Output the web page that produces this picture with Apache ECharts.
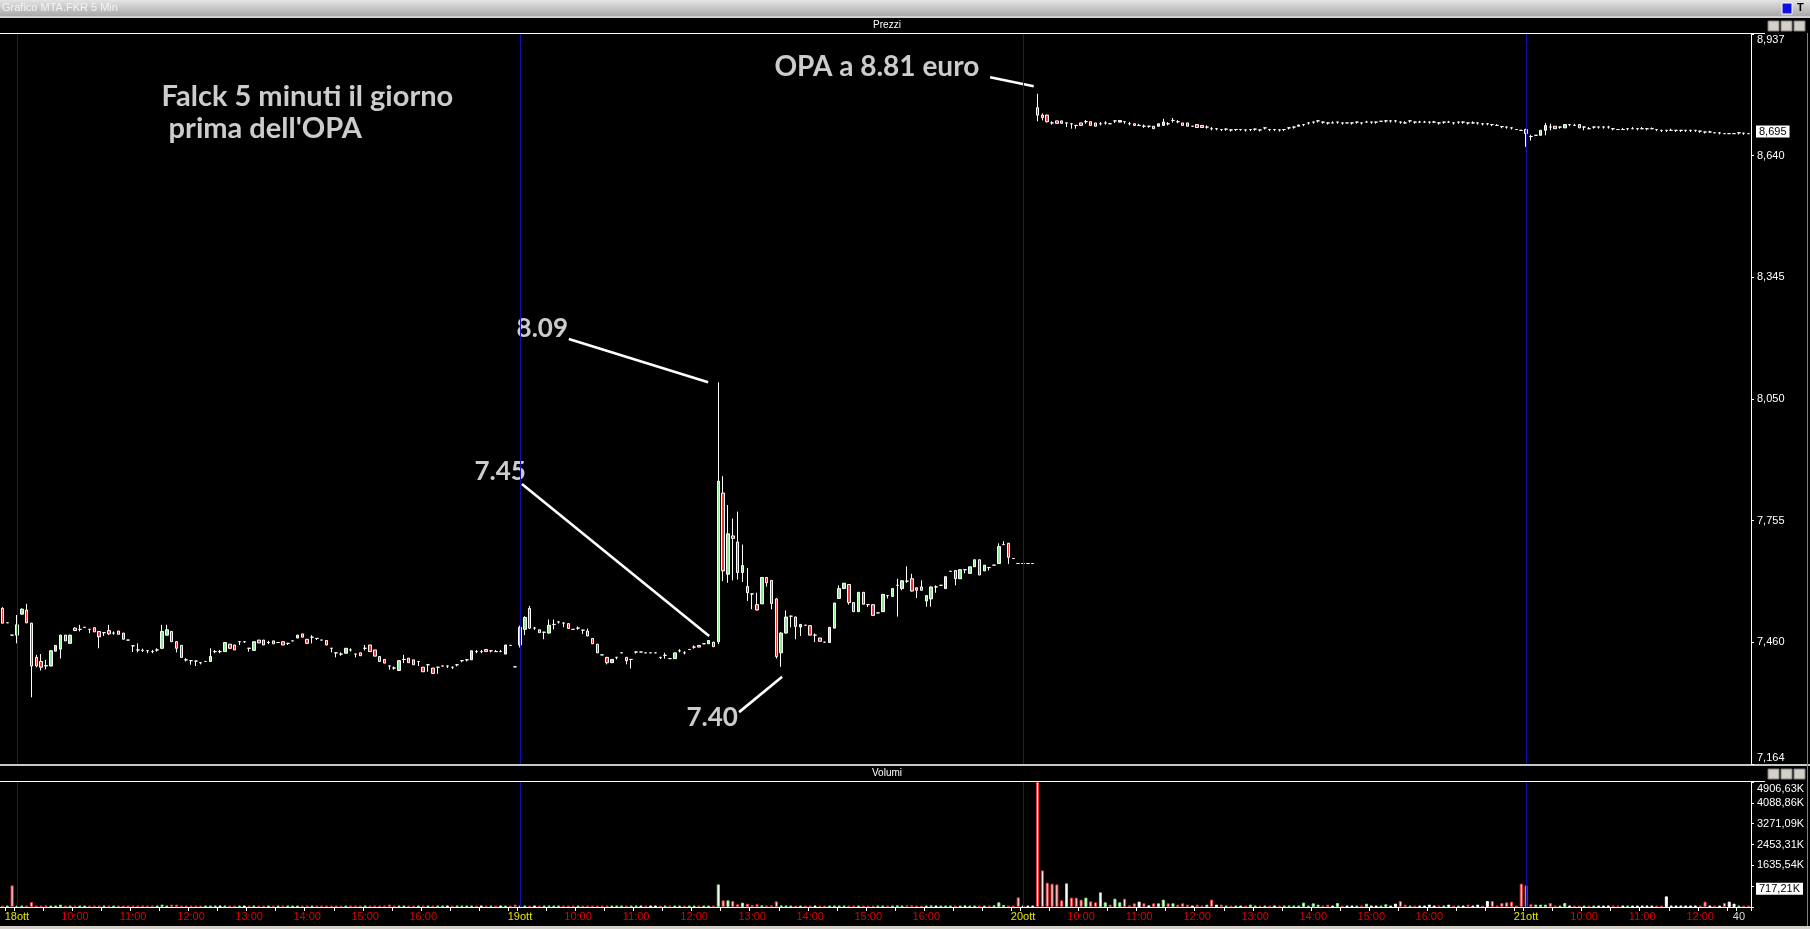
<!DOCTYPE html>
<html><head><meta charset="utf-8">
<script src="https://cdn.jsdelivr.net/npm/echarts@6/dist/echarts.min.js"></script>
<style>html,body{margin:0;padding:0;background:#000;overflow:hidden}#c{width:1810px;height:929px}</style>
</head><body><div id="c"></div>
<script>
// ---------- DATA ----------
const sessionDays = ['17ott','18ott','19ott','20ott','21ott'];
const sessionStart = ['17:25','09:00','09:00','09:00','09:00'];
const barsPerDay = [3,104,104,104,47];

// candles: number = flat bar, [open,close] = no wicks, [open,close,low,high]
const day17 = [[7.542,7.506,7.506,7.545],7.507,7.477];
const day18 = [
[7.477,7.502,7.457,7.526],[7.528,7.540,7.527,7.542],[7.538,7.507,7.506,7.553],[7.506,7.402,7.326,7.507],
[7.423,7.402,7.399,7.429],[7.413,7.399,7.391,7.431],[7.403,7.402,7.394,7.417],[7.402,7.439,7.401,7.441],
[7.438,7.452],[7.443,7.477,7.420,7.478],[7.477,7.463],[7.457,7.477],[7.494,7.488,7.487,7.496],
[7.491,7.491,7.486,7.502],7.496,[7.491,7.491,7.482,7.492],[7.495,7.485],[7.486,7.473,7.445,7.487],
[7.483,7.483,7.475,7.484],[7.488,7.480,7.477,7.502],[7.482,7.482,7.478,7.486],[7.487,7.479],[7.482,7.467],
7.465,[7.451,7.451,7.436,7.452],[7.441,7.441,7.435,7.457],[7.440,7.440,7.436,7.444],[7.439,7.439,7.433,7.440],
[7.437,7.437,7.433,7.441],[7.441,7.441,7.437,7.445],[7.445,7.486,7.443,7.502],[7.477,7.490,7.476,7.502],
[7.486,7.461],[7.461,7.445,7.435,7.462],[7.452,7.423],[7.417,7.417,7.413,7.421],[7.415,7.415,7.405,7.416],
[7.414,7.414,7.402,7.415],[7.410,7.410,7.406,7.411],7.413,[7.413,7.425,7.412,7.445],[7.437,7.437,7.433,7.441],
[7.437,7.437,7.433,7.441],[7.437,7.459],[7.455,7.445],[7.453,7.441],[7.461,7.461,7.453,7.462],
[7.461,7.461,7.458,7.462],[7.445,7.445,7.437,7.446],[7.440,7.461],[7.465,7.458],[7.465,7.453],
[7.459,7.459,7.455,7.463],[7.463,7.456],7.459,[7.461,7.453],[7.457,7.457,7.453,7.458],7.463,
[7.470,7.477],[7.480,7.472],[7.467,7.457],[7.472,7.472,7.457,7.477],[7.469,7.469,7.465,7.470],7.465,
[7.464,7.453],[7.445,7.445,7.435,7.446],[7.434,7.434,7.423,7.435],[7.431,7.431,7.427,7.435],[7.433,7.445],
[7.441,7.441,7.437,7.445],[7.431,7.431,7.423,7.432],[7.434,7.427],[7.445,7.445,7.440,7.453],[7.453,7.437],
[7.441,7.426],[7.425,7.413],[7.418,7.409],[7.402,7.402,7.393,7.403],[7.397,7.397,7.393,7.401],[7.391,7.415],
[7.418,7.418,7.409,7.429],[7.421,7.410],[7.417,7.405],[7.413,7.413,7.402,7.414],[7.399,7.388],
[7.405,7.405,7.388,7.406],[7.397,7.384],[7.399,7.399,7.383,7.400],7.402,[7.402,7.402,7.397,7.403],
[7.399,7.399,7.395,7.400],[7.405,7.405,7.401,7.406],[7.415,7.415,7.411,7.416],[7.417,7.417,7.413,7.418],
[7.417,7.439],[7.437,7.437,7.433,7.441],[7.437,7.437,7.433,7.441],[7.442,7.437],[7.439,7.439,7.435,7.440],
[7.437,7.437,7.436,7.441],[7.437,7.437,7.436,7.441],[7.431,7.453],7.452,7.400
];
const day19 = [
[7.453,7.496,7.447,7.500],[7.491,7.520,7.477,7.523],[7.542,7.494,7.492,7.548],[7.494,7.494,7.490,7.497],
[7.490,7.483],[7.484,7.484,7.467,7.485],[7.482,7.501,7.481,7.515],[7.503,7.503,7.491,7.515],
[7.509,7.509,7.505,7.510],[7.506,7.506,7.496,7.509],[7.505,7.493],7.491,[7.494,7.494,7.490,7.498],
[7.489,7.489,7.480,7.490],[7.487,7.475,7.474,7.493],[7.469,7.456],[7.455,7.434],7.429,
[7.423,7.410,7.406,7.424],[7.410,7.418],[7.423,7.423,7.418,7.424],7.434,[7.423,7.415,7.406,7.424],
[7.418,7.418,7.396,7.419],[7.436,7.436,7.432,7.437],7.436,7.434,7.434,7.434,[7.423,7.423,7.419,7.424],
[7.428,7.428,7.420,7.434],7.420,[7.420,7.434],[7.439,7.439,7.435,7.443],[7.434,7.434,7.430,7.438],7.442,
[7.448,7.448,7.444,7.452],[7.452,7.448],7.456,[7.456,7.464],[7.460,7.449],
[7.461,7.851,7.455,8.091],[7.822,7.633,7.608,7.863],[7.625,7.723,7.604,7.793],[7.718,7.712,7.610,7.760],
[7.703,7.629,7.612,7.777],[7.629,7.646,7.606,7.697],[7.595,7.580,7.560,7.640],[7.577,7.577,7.540,7.578],
[7.551,7.538,7.537,7.580],[7.553,7.617],[7.617,7.604,7.595,7.618],[7.610,7.554,7.540,7.611],
[7.565,7.425,7.420,7.567],[7.434,7.482,7.400,7.484],[7.482,7.521,7.481,7.537],[7.523,7.523,7.496,7.524],
[7.521,7.498,7.467,7.522],[7.497,7.503,7.475,7.504],7.501,[7.500,7.477],[7.477,7.477,7.460,7.481],
[7.470,7.462],7.460,[7.459,7.496],[7.494,7.555],[7.566,7.590,7.565,7.598],[7.590,7.603],
[7.600,7.556,7.551,7.601],[7.556,7.534],[7.534,7.581],[7.581,7.552],[7.551,7.551,7.545,7.552],
[7.551,7.525],7.531,[7.534,7.576],[7.573,7.573,7.566,7.574],[7.571,7.590],[7.598,7.598,7.522,7.614],
[7.590,7.609,7.586,7.610],[7.608,7.608,7.604,7.644],[7.614,7.584,7.583,7.626],[7.592,7.586,7.567,7.593],
[7.594,7.586,7.585,7.610],[7.560,7.573,7.546,7.574],[7.565,7.594,7.546,7.595],[7.594,7.594,7.580,7.598],
7.598,[7.590,7.619],7.632,[7.634,7.614,7.598,7.635],[7.614,7.636],[7.636,7.636,7.627,7.637],
[7.627,7.643],[7.643,7.660],[7.660,7.623],[7.633,7.647],[7.641,7.641,7.634,7.642],7.647,
[7.651,7.692,7.650,7.700],[7.697,7.697,7.696,7.705],[7.700,7.666,7.650,7.701],7.663,7.651
];
const day20 = [
7.651,7.651,7.651,
[8.758,8.740,8.725,8.792],[8.740,8.734,8.727,8.744],[8.740,8.724,8.722,8.741],[8.721,8.721,8.717,8.725],
[8.726,8.720],[8.726,8.720],[8.721,8.721,8.711,8.722],[8.719,8.719,8.707,8.720],[8.715,8.715,8.707,8.716],
[8.721,8.715],[8.724,8.724,8.719,8.728],[8.724,8.715],[8.721,8.713],[8.719,8.719,8.715,8.723],
[8.721,8.721,8.717,8.725],8.719,[8.726,8.726,8.721,8.727],[8.723,8.727],[8.724,8.724,8.719,8.725],
[8.719,8.719,8.715,8.723],[8.719,8.715],[8.715,8.715,8.714,8.719],[8.713,8.713,8.709,8.717],
[8.713,8.713,8.709,8.714],[8.713,8.707],[8.713,8.719],[8.715,8.723,8.714,8.731],[8.719,8.719,8.715,8.723],
[8.727,8.727,8.722,8.733],[8.724,8.724,8.720,8.728],[8.721,8.715],[8.721,8.713],8.713,[8.717,8.710],
[8.715,8.710],[8.711,8.711,8.707,8.715],[8.707,8.707,8.703,8.711],[8.707,8.707,8.703,8.708],
[8.705,8.705,8.701,8.706],[8.706,8.706,8.702,8.707],[8.704,8.704,8.700,8.705],[8.705,8.705,8.701,8.706],
[8.705,8.705,8.702,8.706],[8.704,8.704,8.700,8.705],[8.705,8.705,8.701,8.706],[8.706,8.706,8.702,8.707],
[8.704,8.704,8.700,8.705],[8.709,8.709,8.705,8.710],[8.705,8.705,8.701,8.706],[8.705,8.705,8.701,8.706],
[8.704,8.704,8.700,8.705],[8.705,8.705,8.701,8.706],[8.709,8.709,8.705,8.710],[8.711,8.711,8.707,8.712],
[8.713,8.716],[8.717,8.717,8.713,8.718],[8.721,8.721,8.717,8.722],[8.723,8.723,8.719,8.724],
[8.726,8.726,8.722,8.727],[8.723,8.723,8.719,8.724],[8.721,8.721,8.717,8.722],[8.721,8.721,8.720,8.725],
[8.723,8.723,8.719,8.724],[8.721,8.721,8.717,8.722],8.721,[8.721,8.721,8.717,8.722],[8.723,8.723,8.719,8.724],
[8.721,8.721,8.717,8.722],[8.723,8.723,8.722,8.726],[8.723,8.723,8.719,8.724],[8.723,8.723,8.719,8.724],8.725,
[8.726,8.726,8.722,8.727],[8.726,8.726,8.722,8.727],[8.726,8.726,8.722,8.727],[8.723,8.723,8.719,8.724],
[8.721,8.721,8.720,8.725],[8.726,8.726,8.722,8.727],[8.723,8.723,8.719,8.724],[8.723,8.723,8.722,8.726],
[8.723,8.723,8.722,8.726],[8.723,8.723,8.719,8.724],[8.723,8.723,8.722,8.726],[8.721,8.721,8.717,8.722],
[8.723,8.723,8.719,8.724],[8.723,8.723,8.722,8.726],[8.721,8.721,8.717,8.722],[8.723,8.723,8.719,8.724],
[8.723,8.723,8.719,8.724],[8.721,8.721,8.717,8.722],[8.721,8.721,8.720,8.725],[8.721,8.721,8.717,8.722],
[8.719,8.719,8.715,8.720],[8.719,8.719,8.715,8.720],[8.717,8.717,8.713,8.718],[8.715,8.715,8.714,8.718],
[8.712,8.712,8.708,8.713],[8.711,8.711,8.707,8.712],[8.709,8.709,8.705,8.710],8.705,8.703
];
const day21 = [
[8.705,8.695,8.663,8.707],[8.688,8.688,8.678,8.692],8.691,[8.691,8.703],[8.703,8.715,8.691,8.721],
[8.711,8.711,8.703,8.719],[8.713,8.707],[8.711,8.711,8.707,8.712],[8.709,8.717],[8.717,8.717,8.713,8.718],
[8.715,8.715,8.714,8.719],[8.717,8.709],[8.711,8.711,8.703,8.712],[8.707,8.707,8.706,8.711],
[8.711,8.711,8.707,8.712],[8.711,8.711,8.707,8.712],[8.711,8.711,8.707,8.712],[8.711,8.711,8.707,8.714],
[8.707,8.707,8.703,8.708],8.705,[8.705,8.705,8.704,8.709],[8.707,8.707,8.703,8.708],[8.707,8.707,8.706,8.711],
[8.707,8.707,8.703,8.708],[8.707,8.707,8.706,8.711],[8.707,8.707,8.703,8.708],[8.707,8.707,8.706,8.710],
[8.705,8.705,8.701,8.706],[8.703,8.703,8.699,8.704],[8.703,8.703,8.699,8.704],[8.703,8.703,8.702,8.707],
[8.703,8.703,8.699,8.704],[8.703,8.703,8.699,8.704],[8.703,8.703,8.699,8.704],[8.703,8.703,8.699,8.704],
[8.703,8.703,8.699,8.704],[8.701,8.701,8.697,8.702],[8.699,8.699,8.695,8.700],[8.699,8.699,8.698,8.702],
8.697,[8.697,8.697,8.693,8.698],8.695,8.695,8.695,[8.697,8.697,8.693,8.698],[8.696,8.696,8.692,8.697],8.695
];

// volumes (thousands of shares)
const vol17 = [30,25,850];
const vol18 = [40,30,35,196,30,25,65,30,25,91,25,30,20,25,20,25,20,52,20,25,20,20,25,20,25,20,20,25,20,20,
91,30,91,91,30,20,25,20,20,20,52,20,25,30,20,25,20,20,25,30,20,25,20,20,20,25,20,20,25,25,30,20,20,20,25,30,
25,20,25,20,20,20,25,30,25,30,25,91,25,30,25,20,25,20,25,20,25,20,20,20,20,25,25,20,52,25,20,20,20,20,20,30,25,91];
const vol19 = [30,52,30,25,20,25,20,25,20,20,25,20,20,25,20,25,30,20,25,20,20,20,25,20,20,15,15,15,15,20,20,15,
25,20,20,20,20,25,20,25,30,888,261,261,235,105,170,130,78,105,65,52,65,222,65,30,25,30,52,25,30,25,25,20,25,52,
25,20,25,20,25,20,20,25,20,25,20,25,65,25,65,65,25,20,25,65,20,20,25,20,25,20,20,25,25,30,25,30,65,183,78,30,25,380];
const vol20 = [0,0,0,4906.63,1437,954,915,888,261,928,366,366,287,366,222,183,575,183,91,326,183,326,65,144,209,144,
65,144,144,287,144,144,91,144,91,52,91,52,91,287,91,91,26,26,26,30,26,91,52,26,40,26,30,26,40,52,52,30,170,30,144,
91,26,91,30,157,26,30,26,40,26,130,30,26,40,105,30,130,235,91,30,26,40,30,91,30,26,40,91,30,26,40,91,30,91,40,235,
235,40,157,183,209,40,915];
const vol21 = [850,105,91,91,91,157,30,30,157,40,52,40,52,30,40,30,52,40,30,40,30,40,26,30,40,26,30,26,40,418,30,40,
26,30,40,26,30,209,30,26,40,157,209,130,52,20,52];

// axis tick labels
const priceTickLabels = ['7,164','7,460','7,755','8,050','8,345','8,640','8,937'];
const priceMin = 7.164, priceMax = 8.937;
const volTickLabels = ['','','1635,54K','2453,31K','3271,09K','4088,86K','4906,63K'];
const volMax = 4906.63;
const hourLabels = ['10:00','11:00','12:00','13:00','14:00','15:00','16:00'];
const endLabel = {cat:'21ott 12:40', text:'40'};
const lastPrice = 8.695, lastPriceText = '8,695';
const volMarker = 717.21, volMarkerText = '717,21K';

// annotations (value-x = bar index, y = price)
const noteTexts = [
  {name:"Falck 5 minuti il giorno\n prima dell'OPA", value:[32.8, 8.747], size:29},
  {name:'OPA a 8.81 euro', value:[159.5, 8.858], size:28},
  {name:'8.09', value:[106.2, 8.2225], size:26},
  {name:'7.45', value:[97.5, 7.873], size:26},
  {name:'7.40', value:[141.3, 7.276], size:26}
];
const noteLines = [
  [[204.2, 8.832],[213.2, 8.810]],
  [[117.1, 8.196],[145.9, 8.091]],
  [[107.4, 7.844],[146.1, 7.475]],
  [[152.3, 7.290],[161.2, 7.376]]
];

// ---------- BUILD ----------
const categories = [];
sessionDays.forEach((d,k)=>{
  const [h,m] = sessionStart[k].split(':').map(Number);
  for (let i=0;i<barsPerDay[k];i++){
    const t = h*60+m+5*i;
    categories.push(d+' '+String(Math.floor(t/60)).padStart(2,'0')+':'+String(t%60).padStart(2,'0'));
  }
});
function expand(e){
  if (typeof e === 'number') return [e,e,e,e];
  if (e.length===2) return [e[0],e[1],Math.min(e[0],e[1]),Math.max(e[0],e[1])];
  return e;
}
const candles = [].concat(day17,day18,day19,day20,day21).map(expand);
const volumes = [].concat(vol17,vol18,vol19,vol20,vol21);
const UP='#8ee88e', DN='#e83838', FLAT='#ffffff';
const volData = volumes.map((v,i)=>{
  const c=candles[i];
  let d = c[1]-c[0];
  if (d===0 && i>0) d = c[1]-candles[i-1][1];
  const col = d>0?UP:(d<0?DN:FLAT);
  return {value:v, itemStyle:{color:'#ffffff', borderColor:col, borderWidth:1}};
});
const dayStarts = categories.filter(c=>c.endsWith(' 09:00'));
const priceInterval = (priceMax-priceMin)/6;
const volInterval = volMax/6;
const BLUE = '#1010b0';
const blueLineData = dayStarts.map(c=>({xAxis:c, lineStyle:{color:BLUE, width:1, type:'solid'}, label:{show:false}}));

const FONT = 'Liberation Sans, Arial, sans-serif';
const boxLabel = (txt)=>({show:true, position:'end', distance:5, formatter:txt, color:'#000', backgroundColor:'#ffffff', padding:[1,3,0,3], fontFamily:FONT, fontSize:11});
const chart = echarts.init(document.getElementById('c'), null, {renderer:'canvas', width:1810, height:929});
chart.setOption({
  animation:false,
  backgroundColor:'#000000',
  grid:[
    {left:0, right:59, top:34, height:730, containLabel:false, outerBoundsMode:'none'},
    {left:0, right:59, top:782, height:125, containLabel:false, outerBoundsMode:'none'}
  ],
  xAxis:[
    {type:'category', gridIndex:0, data:categories, axisLine:{show:false, onZero:false}, axisTick:{show:false}, axisLabel:{show:false}, splitLine:{show:false}},
    {type:'category', gridIndex:1, data:categories,
      axisLine:{show:true, onZero:false, lineStyle:{color:'#ffffff', width:1}},
      axisTick:{show:true, length:4, lineStyle:{color:'#ffffff'},
        interval:(i,v)=>{const t=v.slice(-5); return t.endsWith(':00')||t.endsWith(':30')||v===endLabel.cat;}},
      axisLabel:{show:true, margin:4, fontFamily:FONT, fontSize:11,
        interval:(i,v)=>{const t=v.slice(-5); return t==='09:00'||hourLabels.includes(t)||v===endLabel.cat;},
        formatter:(v)=>{const t=v.slice(-5); if(t==='09:00') return '{d|'+v.slice(0,5)+'}'; if(v===endLabel.cat) return '{e|'+endLabel.text+'}'; if(hourLabels.includes(t)) return '{h|'+t+'}'; return '';},
        rich:{d:{color:'#e6e600',fontFamily:FONT,fontSize:11}, h:{color:'#dd0000',fontFamily:FONT,fontSize:11}, e:{color:'#d8d8d8',fontFamily:FONT,fontSize:11}}},
      splitLine:{show:false}},
    {type:'value', gridIndex:0, min:-0.5, max:categories.length-0.5, show:false, axisLine:{onZero:false}}
  ],
  yAxis:[
    {type:'value', gridIndex:0, position:'right', min:priceMin, max:priceMax, interval:priceInterval,
      axisLine:{show:true, onZero:false, lineStyle:{color:'#ffffff', width:1}},
      axisTick:{show:true, length:3, lineStyle:{color:'#ffffff'}},
      splitLine:{show:false},
      axisLabel:{show:true, margin:6, color:'#ffffff', fontFamily:FONT, fontSize:11, showMinLabel:true, showMaxLabel:true,
        formatter:(v)=>{const k=Math.round((v-priceMin)/priceInterval); const t=priceTickLabels[k]; if(k===0) return '{b|'+t+'}'; if(k===6) return '{t|'+t+'}'; return t;},
        rich:{t:{color:'#fff',fontFamily:FONT,fontSize:11,padding:[12,0,0,0]}, b:{color:'#fff',fontFamily:FONT,fontSize:11,padding:[0,0,12,0]}}}},
    {type:'value', gridIndex:1, position:'right', min:0, max:volMax, interval:volInterval,
      axisLine:{show:true, onZero:false, lineStyle:{color:'#ffffff', width:1}},
      axisTick:{show:true, length:3, lineStyle:{color:'#ffffff'}},
      splitLine:{show:false},
      axisLabel:{show:true, margin:6, color:'#ffffff', fontFamily:FONT, fontSize:11, showMaxLabel:true,
        formatter:(v)=>{const k=Math.round(v/volInterval); const t=volTickLabels[k]||''; if(k===6) return '{t|'+t+'}'; return t;},
        rich:{t:{color:'#fff',fontFamily:FONT,fontSize:11,padding:[14,0,0,0]}}}}
  ],
  series:[
    {type:'candlestick', xAxisIndex:0, yAxisIndex:0, data:candles, barWidth:3,
      itemStyle:{color:UP, color0:DN, borderColor:'#ffffff', borderColor0:'#ffffff', borderColorDoji:'#ffffff', borderWidth:1},
      markLine:{silent:true, symbol:['none','none'], animation:false,
        data:[...blueLineData,
          {yAxis:lastPrice, lineStyle:{color:'rgba(0,0,0,0)', width:0}, label:boxLabel(lastPriceText)}]}
    },
    {type:'bar', xAxisIndex:1, yAxisIndex:1, data:volData, barWidth:3, barMinHeight:1.5,
      markLine:{silent:true, symbol:['none','none'], animation:false,
        data:[...blueLineData,
          {yAxis:volMarker, lineStyle:{color:'rgba(0,0,0,0)', width:0}, label:boxLabel(volMarkerText)}]}
    },
    {type:'lines', coordinateSystem:'cartesian2d', xAxisIndex:2, yAxisIndex:0, silent:true,
      lineStyle:{color:'#ffffff', width:2.6, opacity:1, curveness:0},
      data: noteLines.map(c=>({coords:c}))},
    {type:'scatter', xAxisIndex:2, yAxisIndex:0, silent:true, symbol:'circle', symbolSize:1, itemStyle:{color:'rgba(0,0,0,0)'},
      data: noteTexts.map(n=>({name:n.name, value:n.value, label:{fontSize:n.size}})),
      label:{show:true, position:'right', distance:0, formatter:'{b}', color:'#ffffff', fontFamily:'Lato', fontWeight:'bold', fontSize:28, lineHeight:32},
      labelLayout:{hideOverlap:false}}
  ],
  graphic:[
    {type:'rect', shape:{x:0,y:0,width:1810,height:16}, style:{fill:new echarts.graphic.LinearGradient(0,0,0,1,[{offset:0,color:'#e4e4e4'},{offset:1,color:'#a9a9a9'}])}},
    {type:'text', x:2, y:8, style:{text:'Grafico MTA.FKR 5 Min', fill:'#f4f4f4', font:'11px "Liberation Sans Narrow", Arial', verticalAlign:'middle'}},
    {type:'rect', shape:{x:1782,y:3,width:10,height:11}, style:{fill:'#1010e0', stroke:'#ffffff'}},
    {type:'text', x:1797, y:8, style:{text:'T', fill:'#000', font:'bold 11px Arial', verticalAlign:'middle'}},
    {type:'rect', shape:{x:0,y:16,width:1810,height:2}, style:{fill:'#d0d0d0'}},
    {type:'text', x:887, y:25, style:{text:'Prezzi', fill:'#ffffff', font:'10px "Liberation Sans Narrow", Arial', align:'center', verticalAlign:'middle'}},
    {type:'rect', shape:{x:0,y:33,width:1765,height:1}, style:{fill:'#ffffff'}},
    {type:'rect', shape:{x:1768,y:21,width:11,height:10}, style:{fill:'#d4d0c8', stroke:'#808080'}},
    {type:'rect', shape:{x:1781,y:21,width:11,height:10}, style:{fill:'#d4d0c8', stroke:'#808080'}},
    {type:'rect', shape:{x:1794,y:21,width:11,height:10}, style:{fill:'#d4d0c8', stroke:'#808080'}},
    {type:'rect', shape:{x:0,y:764,width:1810,height:2}, style:{fill:'#c8c8c8'}},
    {type:'text', x:887, y:773, style:{text:'Volumi', fill:'#ffffff', font:'10px "Liberation Sans Narrow", Arial', align:'center', verticalAlign:'middle'}},
    {type:'rect', shape:{x:0,y:781,width:1765,height:1}, style:{fill:'#ffffff'}},
    {type:'rect', shape:{x:1768,y:769,width:11,height:10}, style:{fill:'#d4d0c8', stroke:'#808080'}},
    {type:'rect', shape:{x:1781,y:769,width:11,height:10}, style:{fill:'#d4d0c8', stroke:'#808080'}},
    {type:'rect', shape:{x:1794,y:769,width:11,height:10}, style:{fill:'#d4d0c8', stroke:'#808080'}},
    {type:'rect', shape:{x:1807,y:33,width:1,height:893}, style:{fill:'#808080'}},
    {type:'rect', shape:{x:0,y:926,width:1810,height:3}, style:{fill:'#d4d0c8'}}
  ]
});
</script>
</body></html>
